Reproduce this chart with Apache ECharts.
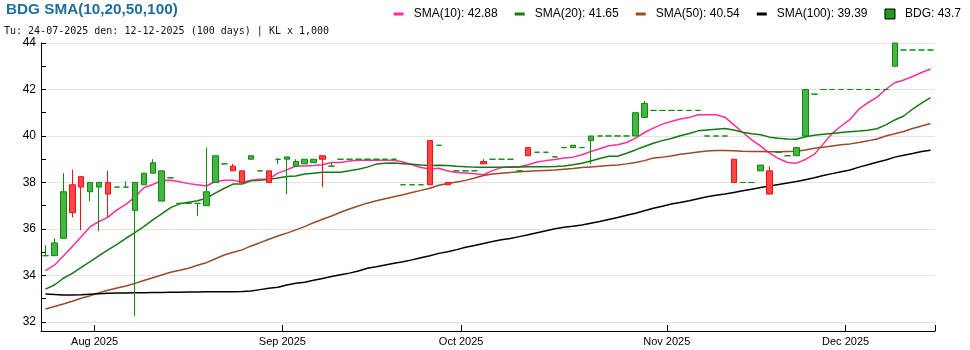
<!DOCTYPE html>
<html>
<head>
<meta charset="utf-8">
<script src="https://cdn.jsdelivr.net/npm/echarts@6/dist/echarts.min.js"></script>
<style>
  html, body { margin: 0; padding: 0; background: #ffffff; }
  #chart { width: 970px; height: 350px; }
</style>
</head>
<body>
<div id="chart"></div>
<script>
// Trading sessions (weekdays without exchange holidays), grouped by month
const tradingDays = [
  ['2025-07', [24, 25, 28, 29, 30, 31]],
  ['2025-08', [1, 4, 5, 6, 7, 8, 11, 12, 13, 14, 15, 18, 19, 20, 21, 22, 25, 26, 27, 28, 29]],
  ['2025-09', [3, 4, 5, 8, 9, 10, 11, 12, 15, 16, 17, 18, 19, 22, 23, 24, 25, 26, 29, 30]],
  ['2025-10', [1, 2, 3, 6, 7, 8, 9, 10, 13, 14, 15, 16, 17, 20, 21, 22, 23, 24, 27, 28, 29, 30, 31]],
  ['2025-11', [3, 4, 5, 6, 7, 10, 11, 12, 13, 14, 17, 18, 19, 20, 21, 24, 25, 26, 27, 28]],
  ['2025-12', [1, 2, 3, 4, 5, 8, 9, 10, 11, 12]]
];
const monthNames = ['Jan', 'Feb', 'Mar', 'Apr', 'May', 'Jun', 'Jul', 'Aug', 'Sep', 'Oct', 'Nov', 'Dec'];

// BDG daily prices (thousand VND)
const opens = [
  34.85, 34.85, 35.60, 37.90, 38.25, 37.60, 37.80, 38.00, 37.80, 37.80,
  36.80, 37.90, 38.40, 37.20, 38.20, 37.10, 37.10, 37.10, 37.00, 38.00,
  38.80, 38.70, 38.50, 39.00, 38.50, 38.50, 39.00, 39.00, 38.70, 38.80,
  38.85, 39.15, 38.70, 39.00, 39.00, 39.00, 39.00, 39.00, 39.00, 39.00,
  37.90, 37.90, 37.90, 39.80, 39.60, 38.00, 38.50, 38.50, 38.50, 38.90,
  39.00, 39.00, 39.00, 38.50, 39.50, 39.30, 39.30, 39.10, 39.50, 39.50,
  39.50, 39.80, 40.00, 40.00, 40.00, 40.00, 40.00, 40.80, 41.10, 41.10,
  41.10, 41.10, 41.10, 41.10, 40.00, 40.00, 40.00, 39.00, 38.00, 38.00,
  38.50, 38.50, 39.30, 39.15, 39.15, 40.00, 41.80, 42.00, 42.00, 42.00,
  42.00, 42.00, 42.00, 42.00, 42.00, 43.00, 43.70, 43.70, 43.70, 43.70
];
const closes = [
  34.85, 35.40, 37.60, 36.70, 37.80, 38.00, 38.00, 37.50, 37.80, 37.80,
  38.00, 38.40, 38.85, 38.50, 38.20, 37.10, 37.10, 37.10, 37.60, 39.15,
  38.80, 38.50, 38.00, 39.15, 38.50, 38.00, 39.00, 39.10, 38.90, 39.00,
  39.00, 39.00, 38.70, 39.00, 39.00, 39.00, 39.00, 39.00, 39.00, 39.00,
  37.90, 37.90, 37.90, 37.90, 39.60, 37.90, 38.50, 38.50, 38.50, 38.80,
  39.00, 39.00, 39.00, 38.50, 39.15, 39.30, 39.30, 39.10, 39.50, 39.60,
  39.50, 40.00, 40.00, 40.00, 40.00, 40.00, 41.00, 41.40, 41.10, 41.10,
  41.10, 41.10, 41.10, 41.10, 40.00, 40.00, 40.00, 38.00, 38.00, 38.00,
  38.75, 37.50, 39.30, 39.15, 39.50, 42.00, 41.80, 42.00, 42.00, 42.00,
  42.00, 42.00, 42.00, 42.00, 42.00, 44.00, 43.70, 43.70, 43.70, 43.70
];
const lows = [
  34.85, 34.85, 35.60, 36.50, 35.95, 37.20, 35.90, 36.50, 37.80, 37.80,
  32.25, 37.90, 38.40, 37.20, 38.20, 37.10, 37.10, 36.55, 37.00, 38.00,
  38.80, 38.50, 38.00, 39.00, 38.50, 38.00, 38.80, 37.50, 38.70, 38.80,
  38.85, 37.80, 38.70, 39.00, 39.00, 39.00, 39.00, 39.00, 39.00, 39.00,
  37.90, 37.90, 37.90, 37.90, 39.60, 37.90, 38.50, 38.50, 38.50, 38.80,
  39.00, 39.00, 39.00, 38.50, 39.15, 39.30, 39.30, 39.10, 39.50, 39.50,
  39.50, 38.80, 40.00, 40.00, 40.00, 40.00, 40.00, 40.80, 41.10, 41.10,
  41.10, 41.10, 41.10, 41.10, 40.00, 40.00, 40.00, 38.00, 38.00, 38.00,
  38.50, 37.50, 39.30, 39.15, 39.15, 40.00, 41.80, 42.00, 42.00, 42.00,
  42.00, 42.00, 42.00, 42.00, 42.00, 43.00, 43.70, 43.70, 43.70, 43.70
];
const highs = [
  35.30, 35.60, 38.40, 38.55, 38.25, 38.00, 38.00, 38.50, 37.80, 38.05,
  38.00, 38.40, 39.00, 38.50, 38.20, 37.10, 37.10, 37.10, 39.50, 39.15,
  38.80, 38.80, 38.50, 39.15, 38.50, 38.50, 39.00, 39.10, 39.00, 39.00,
  39.00, 39.15, 38.85, 39.00, 39.00, 39.00, 39.00, 39.00, 39.00, 39.00,
  37.90, 37.90, 37.90, 39.80, 39.60, 38.00, 38.50, 38.50, 38.50, 39.00,
  39.00, 39.00, 39.00, 38.50, 39.50, 39.30, 39.30, 39.10, 39.50, 39.60,
  39.50, 40.00, 40.00, 40.00, 40.00, 40.00, 41.00, 41.50, 41.10, 41.10,
  41.10, 41.10, 41.10, 41.10, 40.00, 40.00, 40.00, 39.00, 38.00, 38.00,
  38.75, 38.70, 39.30, 39.15, 39.50, 42.00, 41.80, 42.00, 42.00, 42.00,
  42.00, 42.00, 42.00, 42.00, 42.00, 44.00, 43.70, 43.70, 43.70, 43.70
];

// Simple moving averages
const sma10 = [
  34.21, 34.44, 34.84, 35.24, 35.67, 36.10, 36.32, 36.51, 36.82, 37.06,
  37.37, 37.77, 37.91, 38.08, 38.10, 38.03, 37.95, 37.90, 37.85, 38.04,
  38.10, 38.10, 38.01, 38.10, 38.14, 38.15, 38.40, 38.54, 38.71, 38.71,
  38.73, 38.76, 38.86, 38.86, 38.92, 38.96, 38.96, 38.96, 38.96, 38.96,
  38.88, 38.76, 38.64, 38.58, 38.61, 38.49, 38.43, 38.41, 38.37, 38.33,
  38.51, 38.64, 38.68, 38.68, 38.76, 38.88, 38.94, 38.99, 39.05, 39.09,
  39.19, 39.33, 39.45, 39.58, 39.62, 39.72, 39.91, 40.15, 40.34, 40.51,
  40.62, 40.73, 40.79, 40.91, 40.91, 40.91, 40.81, 40.48, 40.15, 39.83,
  39.56, 39.26, 39.03, 38.86, 38.83, 38.99, 39.21, 39.66, 40.11, 40.43,
  40.71, 41.16, 41.43, 41.66, 42.01, 42.29, 42.41, 42.56, 42.73, 42.88
];
const sma20 = [
  33.41, 33.59, 33.88, 34.09, 34.35, 34.59, 34.85, 35.10, 35.34, 35.60,
  35.84, 36.10, 36.39, 36.65, 36.92, 37.08, 37.15, 37.21, 37.32, 37.54,
  37.75, 37.93, 37.93, 38.07, 38.09, 38.14, 38.19, 38.26, 38.28, 38.36,
  38.40, 38.44, 38.44, 38.44, 38.50, 38.57, 38.66, 38.79, 38.83, 38.84,
  38.81, 38.78, 38.75, 38.73, 38.74, 38.73, 38.70, 38.68, 38.66, 38.66,
  38.66, 38.66, 38.66, 38.67, 38.68, 38.68, 38.68, 38.69, 38.71, 38.76,
  38.83, 38.92, 39.03, 39.13, 39.13, 39.26, 39.40, 39.55, 39.69, 39.80,
  39.89, 40.01, 40.11, 40.22, 40.26, 40.29, 40.32, 40.26, 40.16, 40.10,
  40.05, 39.95, 39.90, 39.87, 39.86, 39.97, 40.03, 40.07, 40.11, 40.15,
  40.18, 40.21, 40.25, 40.31, 40.48, 40.69, 40.86, 41.16, 41.41, 41.65
];
const sma50 = [
  32.56, 32.66, 32.77, 32.89, 33.02, 33.13, 33.26, 33.36, 33.46, 33.55,
  33.66, 33.78, 33.90, 34.02, 34.14, 34.22, 34.31, 34.44, 34.55, 34.72,
  34.88, 35.00, 35.10, 35.27, 35.41, 35.56, 35.70, 35.82, 35.96, 36.10,
  36.27, 36.42, 36.56, 36.72, 36.86, 36.99, 37.11, 37.21, 37.30, 37.39,
  37.47, 37.57, 37.66, 37.75, 37.88, 37.96, 38.02, 38.09, 38.19, 38.30,
  38.36, 38.40, 38.43, 38.46, 38.48, 38.50, 38.52, 38.54, 38.57, 38.60,
  38.64, 38.67, 38.70, 38.73, 38.75, 38.80, 38.86, 38.94, 39.05, 39.09,
  39.14, 39.21, 39.26, 39.31, 39.35, 39.37, 39.37, 39.36, 39.34, 39.33,
  39.33, 39.32, 39.32, 39.33, 39.34, 39.40, 39.47, 39.52, 39.57, 39.62,
  39.66, 39.72, 39.79, 39.87, 40.00, 40.10, 40.19, 40.32, 40.43, 40.54
];
const sma100 = [
  33.20, 33.18, 33.16, 33.16, 33.17, 33.19, 33.21, 33.23, 33.24, 33.25,
  33.26, 33.26, 33.27, 33.27, 33.28, 33.28, 33.29, 33.29, 33.30, 33.30,
  33.30, 33.30, 33.31, 33.33, 33.39, 33.45, 33.49, 33.59, 33.66, 33.71,
  33.79, 33.87, 33.95, 34.03, 34.10, 34.19, 34.31, 34.37, 34.45, 34.52,
  34.59, 34.67, 34.76, 34.85, 34.95, 35.02, 35.11, 35.21, 35.29, 35.37,
  35.46, 35.54, 35.59, 35.67, 35.75, 35.84, 35.92, 36.01, 36.07, 36.12,
  36.17, 36.25, 36.32, 36.41, 36.49, 36.59, 36.68, 36.78, 36.89, 36.98,
  37.07, 37.14, 37.21, 37.30, 37.39, 37.45, 37.50, 37.57, 37.64, 37.71,
  37.78, 37.85, 37.91, 37.98, 38.04, 38.12, 38.20, 38.30, 38.38, 38.46,
  38.54, 38.66, 38.76, 38.87, 38.97, 39.09, 39.17, 39.25, 39.33, 39.39
];

// ---- derived structures ----
const dates = [];
tradingDays.forEach(([ym, days]) => {
  days.forEach(d => dates.push(ym + '-' + String(d).padStart(2, '0')));
});
const isMonthStart = i => i > 0 && dates[i].slice(0, 7) !== dates[i - 1].slice(0, 7);
const dmy = s => s.split('-').reverse().join('-');

const UP = { fill: '#45b645', line: '#0b8a0b' };
const DOWN = { fill: '#ff4545', line: '#ee1111' };

const candleData = dates.map((d, i) => {
  const s = closes[i] < opens[i] ? DOWN : UP;
  return {
    value: [opens[i], closes[i], lows[i], highs[i]],
    itemStyle: {
      color: s.fill, color0: s.fill,
      borderColor: s.line, borderColor0: s.line, borderColorDoji: s.line,
      borderWidth: 1
    }
  };
});

const lineDefs = [
  { name: 'SMA(10)', data: sma10, color: '#ff2e9c' },
  { name: 'SMA(20)', data: sma20, color: '#137a13' },
  { name: 'SMA(50)', data: sma50, color: '#9a4a28' },
  { name: 'SMA(100)', data: sma100, color: '#000000' }
];

const legendText = {};
lineDefs.forEach(l => { legendText[l.name] = l.data[l.data.length - 1].toFixed(2); });
legendText['BDG'] = String(closes[closes.length - 1]);

// thin horizontal bar inside a 10x10 box, used as the legend key for lines
const lineIcon = 'path://M0,0 M10,10 M0,3.5 L10,3.5 L10,6.5 L0,6.5 Z';

const chart = echarts.init(document.getElementById('chart'), null, { renderer: 'canvas' });

chart.setOption({
  animation: false,
  backgroundColor: '#ffffff',
  textStyle: { fontFamily: 'Liberation Sans, Arial, sans-serif' },
  title: [
    {
      text: 'BDG SMA(10,20,50,100)',
      left: 6, top: 2, padding: 0,
      textStyle: { fontSize: 15.3, fontWeight: 'bold', color: '#1f6e9e', fontFamily: 'Liberation Sans, Arial, sans-serif' }
    },
    {
      text: 'Tu: ' + dmy(dates[0]) + ' den: ' + dmy(dates[dates.length - 1]) +
            ' (' + dates.length + ' days) | KL x 1,000',
      left: 4, top: 26, padding: 0,
      textStyle: { fontSize: 10, fontWeight: 'normal', color: '#111', fontFamily: 'DejaVu Sans Mono, monospace' }
    }
  ],
  legend: {
    right: 4, top: 3,
    itemWidth: 10, itemHeight: 10, itemGap: 17,
    textStyle: { fontSize: 12, color: '#000', padding: [0, 0, 0, 5] },
    formatter: name => name + ': ' + legendText[name],
    data: lineDefs.map(l => ({ name: l.name, icon: lineIcon, itemStyle: { color: l.color } }))
      .concat([{ name: 'BDG', icon: 'rect', itemStyle: { color: '#1f9a1f', borderColor: '#000', borderWidth: 1 } }])
  },
  grid: { left: 41, right: 35, top: 43, bottom: 19 },
  xAxis: {
    type: 'category',
    data: dates,
    boundaryGap: true,
    axisLine: { show: true, lineStyle: { color: '#000', width: 1 } },
    axisTick: {
      show: true, inside: true, length: 6, alignWithLabel: false,
      interval: i => isMonthStart(i),
      lineStyle: { color: '#000' }
    },
    axisLabel: {
      interval: i => isMonthStart(i),
      formatter: v => { const p = v.split('-'); return monthNames[+p[1] - 1] + ' ' + p[0]; },
      color: '#000', fontSize: 11, margin: 5, padding: [0, 9, 0, 0]
    },
    splitLine: { show: false }
  },
  yAxis: {
    type: 'value',
    min: 31.61, max: 44.0,
    minInterval: 2, maxInterval: 2,
    axisLine: { show: true, lineStyle: { color: '#000', width: 1 } },
    axisTick: { show: true, inside: true, length: 5, lineStyle: { color: '#000' } },
    minorTick: { show: true, splitNumber: 2, length: 5, lineStyle: { color: '#000' } },
    axisLabel: { showMinLabel: false, color: '#000', fontSize: 12, margin: 5 },
    splitLine: { show: true, lineStyle: { color: '#e4e4e4', width: 1 } }
  },
  series: lineDefs.map(l => ({
    name: l.name,
    type: 'line',
    data: l.data,
    symbol: 'none',
    smooth: false,
    z: 2,
    itemStyle: { color: l.color },
    lineStyle: { color: l.color, width: 1.5 }
  })).concat([{
    name: 'BDG',
    type: 'candlestick',
    data: candleData,
    barWidth: 6,
    z: 3,
    itemStyle: {
      color: UP.fill, color0: DOWN.fill,
      borderColor: UP.line, borderColor0: DOWN.line, borderColorDoji: UP.line,
      borderWidth: 1
    }
  }])
});
</script>
</body>
</html>
